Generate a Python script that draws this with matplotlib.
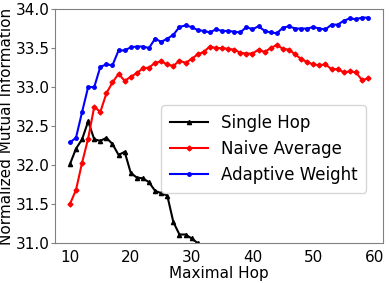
import matplotlib
matplotlib.use("Agg")
import matplotlib.pyplot as plt
import numpy as np

hops = list(range(10, 60))
single_x = list(range(10, 33))
single_hop = [32.01, 32.21, 32.33, 32.56, 32.33, 32.31, 32.35, 32.27, 32.13, 32.17,
              31.90, 31.84, 31.83, 31.78, 31.67, 31.64, 31.61, 31.27, 31.11, 31.11,
              31.06, 31.00, 30.92]
naive_avg = [31.50, 31.68, 32.03, 32.34, 32.75, 32.68, 32.92, 33.06, 33.17, 33.08,
             33.13, 33.18, 33.24, 33.25, 33.31, 33.33, 33.29, 33.27, 33.34, 33.31,
             33.36, 33.42, 33.45, 33.52, 33.50, 33.50, 33.49, 33.48, 33.44, 33.43,
             33.43, 33.48, 33.45, 33.50, 33.54, 33.49, 33.48, 33.42, 33.36, 33.32,
             33.29, 33.28, 33.29, 33.23, 33.23, 33.19, 33.20, 33.19, 33.09, 33.11]
adaptive = [32.29, 32.35, 32.68, 33.00, 33.00, 33.26, 33.29, 33.28, 33.47, 33.47,
            33.51, 33.52, 33.52, 33.50, 33.62, 33.58, 33.62, 33.67, 33.77, 33.79,
            33.77, 33.73, 33.72, 33.70, 33.74, 33.72, 33.72, 33.71, 33.70, 33.77,
            33.74, 33.78, 33.72, 33.70, 33.69, 33.76, 33.78, 33.75, 33.75, 33.75,
            33.77, 33.75, 33.74, 33.80, 33.80, 33.85, 33.88, 33.87, 33.89, 33.89]
labels = ["Single Hop", "Naive Average", "Adaptive Weight"]

fig = plt.figure(figsize=(3.9, 2.83), dpi=100)
ax = fig.add_axes([0.141, 0.141, 0.841, 0.827])
ax.plot(single_x, single_hop, color="black", marker="^", markersize=3, lw=1.5, label=labels[0])
ax.plot(hops, naive_avg, color="red", marker="D", markersize=2.5, lw=1.5, label=labels[1])
ax.plot(hops, adaptive, color="blue", marker="o", markersize=2.5, lw=1.5, label=labels[2])
ax.set_ylim(31.0, 34.0)
ax.set_xticks([10, 20, 30, 40, 50, 60])
ax.set_yticks([31.0, 31.5, 32.0, 32.5, 33.0, 33.5, 34.0])
ax.set_yticklabels(["31.0", "31.5", "32.0", "32.5", "33.0", "33.5", "34.0"])
for s in ax.spines.values():
    s.set_color("#808080")
ax.tick_params(axis="both", labelsize=11, colors="#808080", labelcolor="black")
ax.tick_params(axis="x", length=0, pad=5)
ax.tick_params(axis="y", length=3, pad=1)
ax.set_xlabel("Maximal Hop", fontsize=11, labelpad=1)
ax.set_ylabel("Normalized Mutual Information", fontsize=11, labelpad=1)
ax.legend(loc="lower right", bbox_to_anchor=(0.975, 0.18), fontsize=12,
          handlelength=2.3, handletextpad=0.8, borderpad=0.5, labelspacing=0.5)
fig.savefig("out.png", dpi=100)
